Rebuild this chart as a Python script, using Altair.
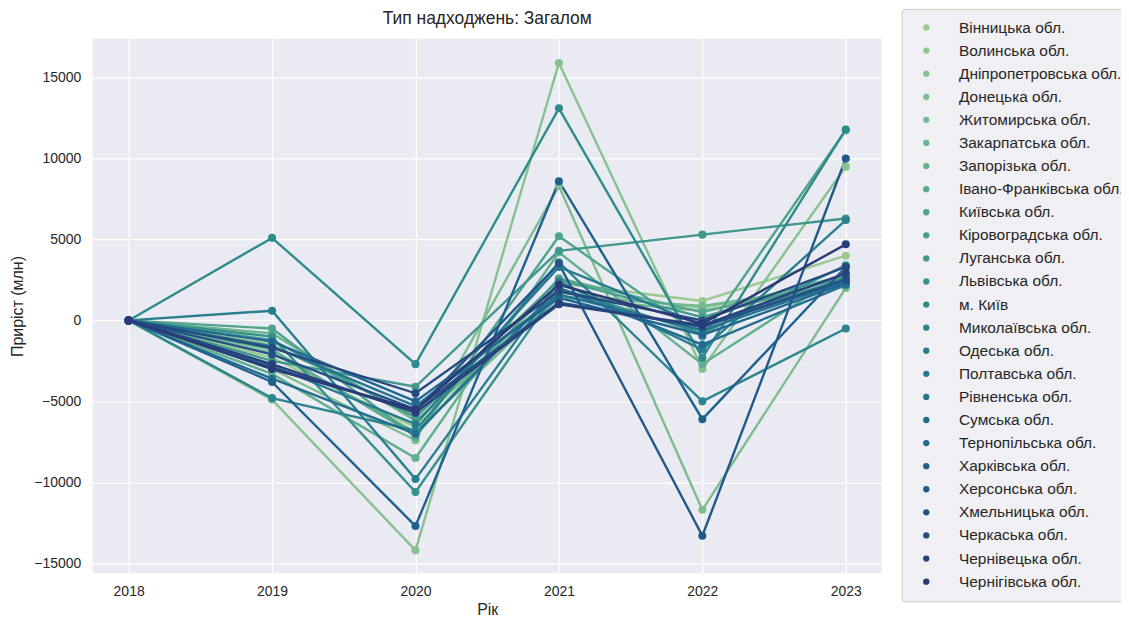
import altair as alt
import pandas as pd
import numpy as np

years = [2018, 2019, 2020, 2021, 2022, 2023]

regions = [
    "Вінницька обл.", "Волинська обл.", "Дніпропетровська обл.", "Донецька обл.",
    "Житомирська обл.", "Закарпатська обл.", "Запорізька обл.", "Івано-Франківська обл.",
    "Київська обл.", "Кіровоградська обл.", "Луганська обл.", "Львівська обл.",
    "м. Київ", "Миколаївська обл.", "Одеська обл.", "Полтавська обл.",
    "Рівненська обл.", "Сумська обл.", "Тернопільська обл.", "Харківська обл.",
    "Херсонська обл.", "Хмельницька обл.", "Черкаська обл.", "Чернівецька обл.",
    "Чернігівська обл.",
]

# values per year, in the order of `regions`
v2018 = [0] * 25
v2019 = [-2300, -1500, -4900, -3000, -2000, -800, -3300, -1800, -500, -1200,
         -2500, -1000, 5100, -4800, 600, -2800, -1600, -3600, -1300, -3800,
         -2900, -2100, -1700, -2700, -3000]
v2020 = [-6600, -5900, -14200, -7400, -6900, -6200, -8500, -7100, -7200, -6000,
         -4100, -10600, -2700, -6800, -9800, -6400, -5300, -7000, -5000, -12700,
         -5600, -5500, -4500, -5700, -5500]
v2021 = [2300, 1700, 15900, 8300, 1500, 1400, 4200, 2600, 5200, 2500,
         4300, 2000, 13100, 3600, 2400, 3300, 1600, 2000, 1400, 8600,
         3500, 1100, 1800, 1000, 2200]
v2022 = [1200, 800, -3000, -11700, 900, 600, -2700, 500, -1000, 200,
         5300, -800, -2300, -5000, -1800, -300, -600, -1500, -900, -6100,
         -13300, -400, 0, -300, -200]
v2023 = [4000, 2300, 9500, 2000, 2200, 2100, 3000, 2800, 11750, 2700,
         6300, 3400, 11800, -500, 6200, 2600, 2400, 2200, 2300, 3300,
         10000, 2500, 3300, 2900, 4700]

y_ticks = [-15000, -10000, -5000, 0, 5000, 10000, 15000]

# crest-like palette stops
stops_pos = [0.0, 0.25, 0.5, 0.75, 1.0]
stops_rgb = [(165, 205, 144), (101, 178, 142), (46, 139, 140), (31, 100, 145), (44, 49, 114)]
pos = np.linspace(0, 1, len(regions) + 2)[1:-1]
colors = []
for p in pos:
    rgb = [int(round(np.interp(p, stops_pos, [s[i] for s in stops_rgb]))) for i in range(3)]
    colors.append("#%02x%02x%02x" % tuple(rgb))

rows = []
for yi, vals in zip(years, [v2018, v2019, v2020, v2021, v2022, v2023]):
    for k, (r, v) in enumerate(zip(regions, vals)):
        rows.append({"region": r, "year": yi, "value": v, "k": k})
df = pd.DataFrame(rows)

FONT = "Liberation Sans"
TXT = "#262626"

x_enc = alt.X("year:Q",
              scale=alt.Scale(domain=[2017.75, 2023.25], nice=False, zero=False),
              axis=alt.Axis(values=years, format="d", title="Рік", labelPadding=11,
                            titlePadding=3))
y_enc = alt.Y("value:Q",
              scale=alt.Scale(domain=[-15620, 17400], nice=False, zero=False),
              axis=alt.Axis(values=y_ticks, format="d", title="Приріст (млн)",
                            labelPadding=12, titlePadding=8))
c_enc = alt.Color("region:N",
                  scale=alt.Scale(domain=regions, range=colors),
                  legend=alt.Legend(title=None, symbolType="circle"))

base = alt.Chart(df).encode(x=x_enc, y=y_enc, color=c_enc, order=alt.Order("k:Q"))
lines = base.mark_line(strokeWidth=2.4)
points = base.mark_point(filled=True, size=65, opacity=1)

chart = alt.layer(lines, points).properties(
    width=791, height=536,
    title=alt.TitleParams("Тип надходжень: Загалом", fontSize=17.5, font=FONT,
                          fontWeight="normal", color=TXT, anchor="middle",
                          frame="group", offset=8, dy=27),
    autosize=alt.AutoSizeParams(type="none"),
    padding={"left": 85, "top": 30, "right": 240, "bottom": 44},
).configure_view(
    fill="#EAEAF2", stroke=None
).configure_axis(
    gridColor="white", gridWidth=1.2, domain=False, ticks=False,
    labelFont=FONT, labelFontSize=14, labelColor=TXT,
    titleFont=FONT, titleFontSize=16, titleFontWeight="normal", titleColor=TXT,
).configure_legend(
    orient="none", legendX=811, legendY=-30,
    fillColor="#f0f0f4", strokeColor="#cccccc", cornerRadius=3, padding=11,
    labelFont=FONT, labelFontSize=15.5, labelColor=TXT,
    symbolSize=40, symbolStrokeWidth=0, symbolOpacity=1, rowPadding=6.15,
    symbolOffset=6, labelOffset=25, labelLimit=300,
)

chart.save("out.html", embed_options={"renderer": "svg", "actions": False})
